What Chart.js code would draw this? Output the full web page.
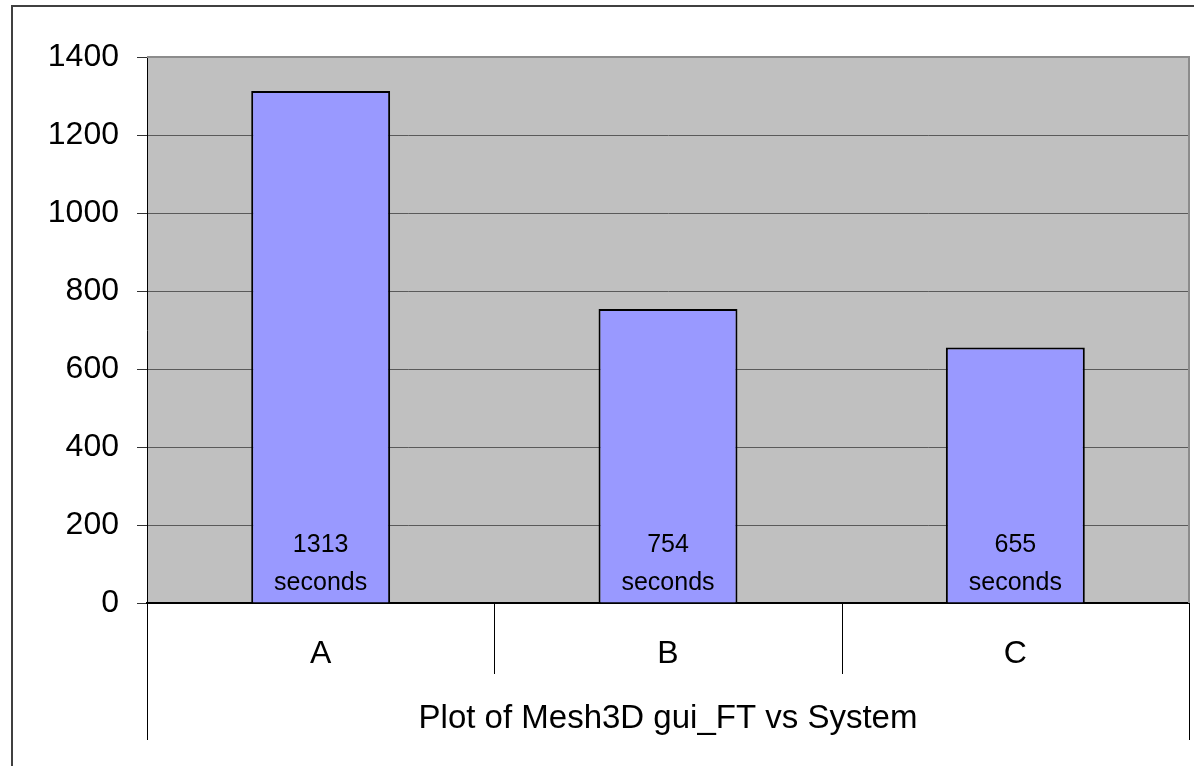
<!DOCTYPE html>
<html>
<head>
<meta charset="utf-8">
<title>Plot of Mesh3D gui_FT vs System</title>
<script src="https://cdn.jsdelivr.net/npm/chart.js@4.4.0/dist/chart.umd.min.js"></script>
<style>
  html, body { margin: 0; padding: 0; background: #fff; }
  canvas { display: block; }
</style>
</head>
<body>
<canvas id="chart" width="1194" height="766"></canvas>
<script>
const categories = ["A", "B", "C"];
const seconds = [1313, 754, 655];
const barLabels = ["1313", "754", "655"];
const yMin = 0;
const yMax = 1400;
const yStep = 200;
const axisTitle = "Plot of Mesh3D gui_FT vs System";

const FONT = "'Liberation Sans', Arial, sans-serif";

// grey plot area + outer frame, drawn behind everything
const backdrop = {
  id: "backdrop",
  beforeDraw(chart) {
    const { ctx, chartArea } = chart;
    ctx.save();
    ctx.fillStyle = "#c0c0c0";
    ctx.fillRect(chartArea.left, chartArea.top, chartArea.right - chartArea.left, chartArea.bottom - chartArea.top);

    // outer frame, runs off the right and bottom edge
    ctx.strokeStyle = "#404040";
    ctx.lineWidth = 2;
    ctx.beginPath();
    ctx.moveTo(12, chart.height + 5);
    ctx.lineTo(12, 6);
    ctx.lineTo(chart.width + 5, 6);
    ctx.stroke();
    ctx.restore();
  },
  afterDraw(chart) {
    const { ctx, chartArea } = chart;
    const x = chart.scales.x;
    ctx.save();
    // plot area top/right edge
    ctx.strokeStyle = "#8c8c8c";
    ctx.lineWidth = 2;
    ctx.beginPath();
    ctx.moveTo(chartArea.left, chartArea.top);
    ctx.lineTo(chartArea.right, chartArea.top);
    ctx.lineTo(chartArea.right, chartArea.bottom);
    ctx.stroke();

    // table style separators under the axis
    ctx.strokeStyle = "#000";
    ctx.lineWidth = 1;
    const n = categories.length;
    for (let i = 0; i <= n; i++) {
      let px;
      if (i === 0) px = chartArea.left;
      else if (i === n) px = chartArea.right;
      else px = (x.getPixelForValue(i - 1) + x.getPixelForValue(i)) / 2;
      const outer = i === 0 || i === n;
      const y2 = outer ? chartArea.bottom + 137 : chartArea.bottom + 71;
      ctx.beginPath();
      ctx.moveTo(Math.round(px) + 0.5, chartArea.bottom);
      ctx.lineTo(Math.round(px) + 0.5, y2);
      ctx.stroke();
    }
    ctx.restore();
  }
};

// "1313 / seconds" text inside each bar
const barText = {
  id: "barText",
  afterDatasetsDraw(chart) {
    const { ctx } = chart;
    const meta = chart.getDatasetMeta(0);
    ctx.save();
    ctx.fillStyle = "#000";
    ctx.font = "25px " + FONT;
    ctx.textAlign = "center";
    ctx.textBaseline = "middle";
    meta.data.forEach((bar, i) => {
      ctx.fillText(barLabels[i], bar.x, bar.base - 57);
      ctx.fillText("seconds", bar.x, bar.base - 19);
    });
    ctx.restore();
  }
};

const ctx = document.getElementById("chart").getContext("2d");
new Chart(ctx, {
  type: "bar",
  data: {
    labels: categories,
    datasets: [
      {
        data: seconds,
        backgroundColor: "#9999ff",
        borderColor: "#000",
        borderWidth: 2,
        barPercentage: 0.4,
        categoryPercentage: 1
      }
    ]
  },
  options: {
    responsive: false,
    animation: false,
    layout: { padding: { left: 0, top: 57, right: 5, bottom: 0 } },
    plugins: {
      legend: { display: false },
      tooltip: { enabled: false }
    },
    scales: {
      x: {
        grid: { display: false, drawTicks: false },
        border: { display: true, color: "#000", width: 2 },
        ticks: {
          color: "#000",
          font: { family: FONT, size: 32 },
          padding: 32
        },
        title: {
          display: true,
          text: axisTitle,
          color: "#000",
          font: { family: FONT, size: 33 },
          padding: { top: 0, bottom: 27 }
        },
        afterFit(scale) {
          scale.height = 163;
        }
      },
      y: {
        min: yMin,
        max: yMax,
        grid: {
          color: "#5a5a5a",
          lineWidth: 1,
          tickLength: 10,
          tickColor: "#333"
        },
        border: { display: true, color: "#000", width: 1 },
        ticks: {
          stepSize: yStep,
          color: "#000",
          font: { family: FONT, size: 32 },
          padding: 18,
          callback: (value) => String(value)
        },
        afterFit(scale) {
          scale.width = 147;
        }
      }
    }
  },
  plugins: [backdrop, barText]
});
</script>
</body>
</html>
